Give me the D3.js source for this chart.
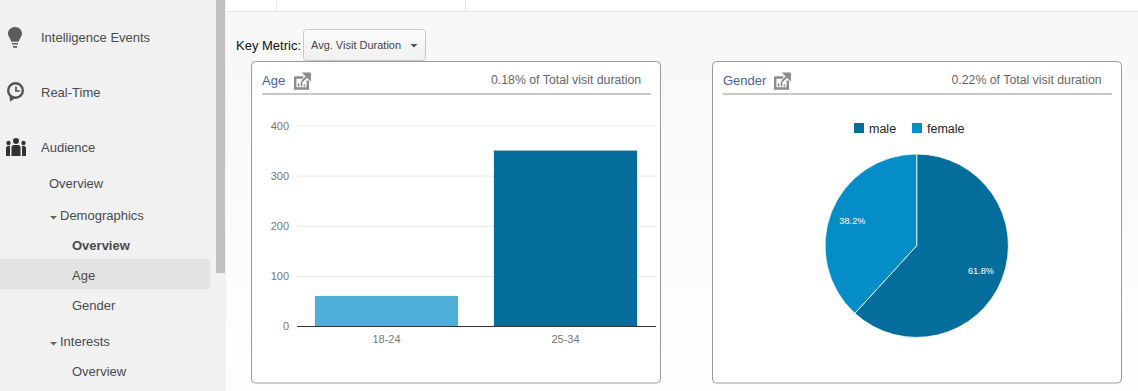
<!DOCTYPE html>
<html>
<head>
<meta charset="utf-8">
<script src="https://cdn.jsdelivr.net/npm/d3@7"></script>
<style>
html, body { margin:0; padding:0; background:#fff; overflow:hidden; }
svg { display:block; font-family:"Liberation Sans", Arial, sans-serif; }
</style>
</head>
<body>
<script>
// Age chart data
const ageGroups = ["18-24", "25-34"];
const ageValues = [60, 350];
const ageTicks = [0, 100, 200, 300, 400];

// Gender chart data
const genders = ["male", "female"];
const genderShares = [61.8, 38.2];

// Sidebar text
const navMain = ["Intelligence Events", "Real-Time", "Audience"];
const navSub = ["Overview", "Demographics", "Overview", "Age", "Gender", "Interests", "Overview"];

const width = 1138;
const height = 391;

const svg = d3.select("body").append("svg")
.attr("width", width)
.attr("height", height);

const defs = svg.append("defs");

const pageGrad = defs.append("linearGradient").attr("id","pageGrad").attr("x2",0).attr("y2",1);
pageGrad.append("stop").attr("offset",0).attr("stop-color","#f7f7f7");
pageGrad.append("stop").attr("offset",1).attr("stop-color","#fefefe");

const btnGrad = defs.append("linearGradient").attr("id","btnGrad").attr("x2",0).attr("y2",1);
btnGrad.append("stop").attr("offset",0).attr("stop-color","#fbfbfb");
btnGrad.append("stop").attr("offset",1).attr("stop-color","#f0f0f0");

// Page background and top tab strip
svg.append("rect").attr("x",226).attr("y",11).attr("width",width-226).attr("height",height-11).attr("fill","url(#pageGrad)");
svg.append("rect").attr("x",226).attr("y",0).attr("width",width-226).attr("height",11).attr("fill","#fff");
svg.append("rect").attr("x",226).attr("y",11).attr("width",width-226).attr("height",1).attr("fill","#e8e8e8");
[276,465].forEach(function(x){
  svg.append("rect").attr("x",x).attr("y",0).attr("width",1).attr("height",11).attr("fill","#e8e8e8");
});

// Sidebar
svg.append("rect").attr("width",226).attr("height",height).attr("fill","#f1f1f1");
svg.append("rect").attr("x",216).attr("y",0).attr("width",9).attr("height",273).attr("fill","#c0c0c0");
svg.append("rect").attr("x",0).attr("y",259).attr("width",210).attr("height",30).attr("fill","#e3e3e3");

const navText = "#4a4a4f";
svg.selectAll("text.navMain")
.data(navMain)
.enter()
.append("text")
.attr("class","navMain")
.attr("x",41)
.attr("y",function(d,i){ return 42 + i*55; })
.attr("font-size","13px")
.attr("fill",navText)
.text(function(d){ return d; });

const navX = [49,60,72,72,72,60,72];
const navY = [188,220,250,280,310,346,376];
svg.selectAll("text.navSub")
.data(navSub)
.enter()
.append("text")
.attr("class","navSub")
.attr("x",function(d,i){ return navX[i]; })
.attr("y",function(d,i){ return navY[i]; })
.attr("font-size","13px")
.attr("font-weight",function(d,i){ return i==2 ? "bold" : "normal"; })
.attr("fill",navText)
.text(function(d){ return d; });

// Sidebar expand arrows
[216,342].forEach(function(y){
  svg.append("path").attr("d","M50,"+y+"h7l-3.5,3.5z").attr("fill","#666");
});

// Sidebar icons
svg.append("path")
.attr("d","M15,27c-4.2,0-7,3-7,6.6c0,3.2,2.5,5,3.3,8.2h7.4c0.8-3.2,3.3-5,3.3-8.2C22,30,19.2,27,15,27z M12,43h6v1.5h-6z M13,46h4v1.7h-4z")
.attr("fill","#5c5c5c");
svg.append("circle").attr("cx",15.5).attr("cy",90.5).attr("r",7.3).attr("fill","#f1f1f1").attr("stroke","#555").attr("stroke-width",2.4);
svg.append("path").attr("d","M9.5,96l0.5,5.8l5,-3.6z").attr("fill","#555");
svg.append("path").attr("d","M16,86.5v4.5h3.8").attr("fill","none").attr("stroke","#555").attr("stroke-width",1.7);
[[16,141,3],[8.5,143,2.2],[23.5,143,2.2]].forEach(function(p){
  svg.append("circle").attr("cx",p[0]).attr("cy",p[1]).attr("r",p[2]).attr("fill","#333");
});
svg.append("path").attr("d","M11.5,156v-8.5q0,-2.5 2.5,-2.5h4q2.5,0 2.5,2.5v8.5z").attr("fill","#333");
svg.append("path").attr("d","M6,156v-8q0,-2 2,-2h2v10z M22,156v-10h2q2,0 2,2v8z").attr("fill","#333");

// Key metric selector
svg.append("text").attr("x",236).attr("y",50).attr("font-size","13px").attr("fill","#111").text("Key Metric:");
svg.append("rect").attr("x",303.5).attr("y",29.5).attr("width",122).attr("height",31).attr("rx",3)
.attr("fill","url(#btnGrad)").attr("stroke","#c8c8c8");
svg.append("text").attr("x",311).attr("y",49).attr("font-size","11px").attr("fill","#444").text("Avg. Visit Duration");
svg.append("path").attr("d","M410.5,44h7l-3.5,3.5z").attr("fill","#555");

// Card frame with heading, share text and the small open icon
function drawCard(x, title, note, iconX, noteX){
  const g = svg.append("g");
  g.append("rect").attr("x",x+.5).attr("y",61.5).attr("width",409).attr("height",321.5).attr("rx",4)
  .attr("fill","#fff").attr("stroke","#999");
  g.append("rect").attr("x",x+11).attr("y",93).attr("width",389).attr("height",2).attr("fill","#c8c8c8");
  g.append("text").attr("x",x+11).attr("y",85).attr("font-size","13px").attr("fill","#4d5bab").text(title);
  g.append("text").attr("x",noteX).attr("y",84).attr("font-size","12.3px").attr("fill","#666").text(note);
  const icon = g.append("g").attr("transform","translate("+iconX+",72)");
  icon.append("path").attr("d","M1.2,5.5h8M1.2,4.5v12h12.6v-8").attr("fill","none").attr("stroke","#8c8c8c").attr("stroke-width",2.4);
  icon.append("path").attr("d","M4.5,14.5v-3M7.5,14.5v-5M10.5,14.5v-2").attr("stroke","#8c8c8c").attr("stroke-width",1.6);
  icon.append("path").attr("d","M8,9.5l5,-5M10,1.5h6v6z").attr("fill","#8c8c8c").attr("stroke","#8c8c8c").attr("stroke-width",1.8);
}
drawCard(251, "Age", "0.18% of Total visit duration", 294, 491);
drawCard(712, "Gender", "0.22% of Total visit duration", 774, 951.5);

// Age bar chart
const xScale = d3.scaleBand()
.domain(ageGroups)
.range([297,655])
.paddingInner(0.2)
.paddingOuter(0.1);

const yScale = d3.scaleLinear()
.domain([0,400])
.range([326,125.5]);

const yAxis = d3.axisLeft(yScale)
.tickValues(ageTicks)
.tickSize(-359)
.tickPadding(8);

const yG = svg.append("g")
.attr("transform","translate(297,0)")
.call(yAxis);
yG.select(".domain").remove();
yG.selectAll("line").attr("stroke","#e6e6e6");
yG.selectAll("text").attr("font-size","11px").attr("font-family","inherit").attr("fill","#777");

const barColors = ["#4fafd8","#056d9b"];
svg.selectAll("rect.bar")
.data(ageValues)
.enter()
.append("rect")
.attr("class","bar")
.attr("x",function(d,i){ return xScale(ageGroups[i]); })
.attr("y",function(d){ return yScale(d); })
.attr("width",xScale.bandwidth())
.attr("height",function(d){ return yScale(0) - yScale(d); })
.attr("fill",function(d,i){ return barColors[i]; });

const xAxis = d3.axisBottom(xScale).tickSize(0).tickPadding(9);
const xG = svg.append("g")
.attr("transform","translate(0,326)")
.call(xAxis);
xG.select(".domain").attr("stroke","#333").attr("d","M297,0.5H656");
xG.selectAll("text").attr("font-size","11px").attr("font-family","inherit").attr("fill","#777");

// Gender pie
const pieColor = d3.scaleOrdinal().domain(genders).range(["#056d9b","#058dc7"]);
const pie = d3.pie().sort(null);
const pieRadius = 91.7;
const arc = d3.arc().innerRadius(0).outerRadius(pieRadius);
const labelArc = d3.arc().innerRadius(69).outerRadius(69);

const pieG = svg.append("g").attr("transform","translate(916.7,245.7)");
const slices = pie(genderShares);

pieG.selectAll("path")
.data(slices)
.enter()
.append("path")
.attr("d",arc)
.attr("fill",function(d,i){ return pieColor(genders[i]); })
.attr("stroke","#fff")
.attr("stroke-width",0.8);

pieG.selectAll("text")
.data(slices)
.enter()
.append("text")
.attr("transform",function(d){ return "translate("+labelArc.centroid(d)+")"; })
.attr("text-anchor","middle")
.attr("dy","0.35em")
.attr("font-size","9.2px")
.attr("fill","#fff")
.text(function(d){ return d.data.toFixed(1) + "%"; });

// Pie legend
const legendX = [854,912];
const legend = svg.selectAll("g.legend")
.data(genders)
.enter()
.append("g")
.attr("class","legend")
.attr("transform",function(d,i){ return "translate("+legendX[i]+",123)"; });
legend.append("rect").attr("width",10).attr("height",10).attr("fill",function(d){ return pieColor(d); });
legend.append("text").attr("x",15).attr("y",10).attr("font-size","12.5px").attr("fill","#222").text(function(d){ return d; });
</script>
</body>
</html>
